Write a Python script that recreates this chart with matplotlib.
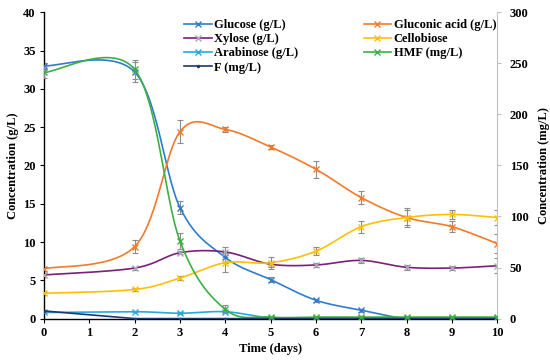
import matplotlib
matplotlib.use("Agg")
import matplotlib.pyplot as plt
import numpy as np

days = [0, 2, 3, 4, 5, 6, 7, 8, 9, 10]

glucose = [33.0, 32.2, 14.5, 8.0, 5.1, 2.4, 1.1, 0.0, 0.0, 0.0]
glucose_err = [0.4, 1.3, 0.8, 0.7, 0.3, 0.2, 0.2, 0.1, 0.1, 0.1]
gluconic = [6.5, 9.4, 24.4, 24.7, 22.4, 19.5, 15.8, 13.2, 12.0, 9.8]
gluconic_err = [0.3, 0.8, 1.5, 0.3, 0.3, 1.1, 0.9, 1.0, 0.7, 1.2]
xylose = [5.7, 6.6, 8.6, 8.7, 7.1, 7.0, 7.6, 6.7, 6.6, 6.9]
xylose_err = [0.3, 0.2, 0.2, 0.7, 0.3, 0.3, 0.3, 0.3, 0.3, 1.0]
cellobiose = [3.3, 3.8, 5.3, 7.3, 7.3, 8.8, 12.0, 13.2, 13.6, 13.2]
cellobiose_err = [0.2, 0.2, 0.3, 1.2, 0.8, 0.5, 0.8, 1.2, 0.6, 1.0]
arabinose = [0.8, 0.9, 0.7, 0.9, 0.1, 0.1, 0.1, 0.1, 0.1, 0.1]
arabinose_err = [0.1, 0.1, 0.1, 0.1, 0.05, 0.05, 0.05, 0.05, 0.05, 0.05]
hmf = [241, 244, 76, 9, 1.5, 1.5, 1.5, 1.5, 1.5, 1.5]
hmf_err = [5, 9, 8, 4, 1, 1, 1, 1, 1, 1]
f_mg = [7.5, 0, 0, 0, 0, 0, 0, 0, 0, 0]

plt.rcParams['font.family'] = ['Liberation Serif', 'DejaVu Serif']
plt.rcParams['font.weight'] = 'bold'
plt.rcParams['font.size'] = 9


def smooth(x, y, n=30):
    # Excel-like smoothed line: cubic bezier with catmull-rom style handles
    x = np.asarray(x, float)
    y = np.asarray(y, float)
    pts = np.column_stack([x, y])
    out = []
    t = np.linspace(0, 1, n)[:, None]
    for i in range(len(pts) - 1):
        p0 = pts[i]
        p3 = pts[i + 1]
        prev = pts[i - 1] if i > 0 else pts[i]
        nxt = pts[i + 2] if i + 2 < len(pts) else pts[i + 1]
        c1 = p0 + (p3 - prev) / 6.0
        c2 = p3 - (nxt - p0) / 6.0
        seg = ((1 - t) ** 3) * p0 + 3 * ((1 - t) ** 2) * t * c1 \
            + 3 * (1 - t) * t ** 2 * c2 + t ** 3 * p3
        out.append(seg if i == 0 else seg[1:])
    out = np.vstack(out)
    return out[:, 0], out[:, 1]


fig = plt.figure(figsize=(5.5, 3.6), dpi=100)
ax = fig.add_axes([0.08, 0.115, 0.824, 0.851])
ax2 = ax.twinx()

err_kw = dict(fmt='none', ecolor='#8c8c8c', elinewidth=0.8, capsize=2, capthick=0.8)

left_series = [
    (glucose, glucose_err, '#2f7bd0', '#2f7bd0', 'Glucose (g/L)'),
    (xylose, xylose_err, '#7b1f7b', '#a8a8b8', 'Xylose (g/L)'),
    (arabinose, arabinose_err, '#27a9e1', '#27a9e1', 'Arabinose (g/L)'),
    (gluconic, gluconic_err, '#f47a2a', '#f47a2a', 'Gluconic acid (g/L)'),
    (cellobiose, cellobiose_err, '#ffc000', '#ffc000', 'Cellobiose'),
]
handles = {}
for vals, err, col, mcol, lab in left_series:
    ax.errorbar(days, vals, yerr=err, **err_kw, zorder=2)
    sx, sy = smooth(days, vals)
    ax.plot(sx, sy, color=col, lw=1.2, zorder=3)
    ax.plot(days, vals, ls='none', marker='x', ms=4, mew=1, color=mcol, zorder=4)
    handles[lab] = plt.Line2D([], [], color=col, lw=1.2, marker='x', ms=4,
                              mew=1, mec=mcol)

ax2.errorbar(days, hmf, yerr=hmf_err, **err_kw, zorder=2)
sx, sy = smooth(days, hmf)
ax2.plot(sx, sy, color='#3cb043', lw=1.2, zorder=3)
ax2.plot(days, hmf, ls='none', marker='x', ms=4, mew=1, color='#3cb043', zorder=4)
handles['HMF (mg/L)'] = plt.Line2D([], [], color='#3cb043', lw=1.2, marker='x', ms=4, mew=1)

ax2.plot(days, f_mg, color='#1f3a6e', lw=1.2, marker='.', ms=3, zorder=3)
handles['F (mg/L)'] = plt.Line2D([], [], color='#1f3a6e', lw=1.2, marker='.', ms=3)

ax.set_xlim(0, 10)
ax.set_ylim(0, 40)
ax2.set_ylim(0, 300)
ax.set_xticks(range(0, 11))
ax.set_yticks(range(0, 41, 5))
ax2.set_yticks(range(0, 301, 50))

for a in (ax, ax2):
    a.spines['top'].set_visible(False)
ax.spines['right'].set_visible(False)
ax2.spines['left'].set_visible(False)
ax2.spines['bottom'].set_visible(False)
ax2.spines['right'].set_color('#c0c0c0')
ax.spines['left'].set_linewidth(1)
ax.spines['bottom'].set_linewidth(1)
ax.tick_params(axis='both', direction='out', length=3, width=0.8, pad=3)
ax2.tick_params(axis='y', direction='out', length=3, width=0.8, color='#c0c0c0', pad=6)

ax.set_xlabel('Time (days)', fontweight='bold', labelpad=3)
ax.set_ylabel('Concentration (g/L)', fontweight='bold', labelpad=3)
ax2.set_ylabel('Concentration (mg/L)', fontweight='bold', labelpad=7)

order = ['Glucose (g/L)', 'Xylose (g/L)', 'Arabinose (g/L)', 'F (mg/L)',
         'Gluconic acid (g/L)', 'Cellobiose', 'HMF (mg/L)']
ax.legend([handles[k] for k in order], order, ncol=2, frameon=False,
          loc='upper left', bbox_to_anchor=(0.285, 1.015), handlelength=2.2,
          handletextpad=0.2, columnspacing=5.2, labelspacing=0.18,
          prop={'weight': 'bold', 'size': 9})

fig.savefig('out.png', dpi=100)
